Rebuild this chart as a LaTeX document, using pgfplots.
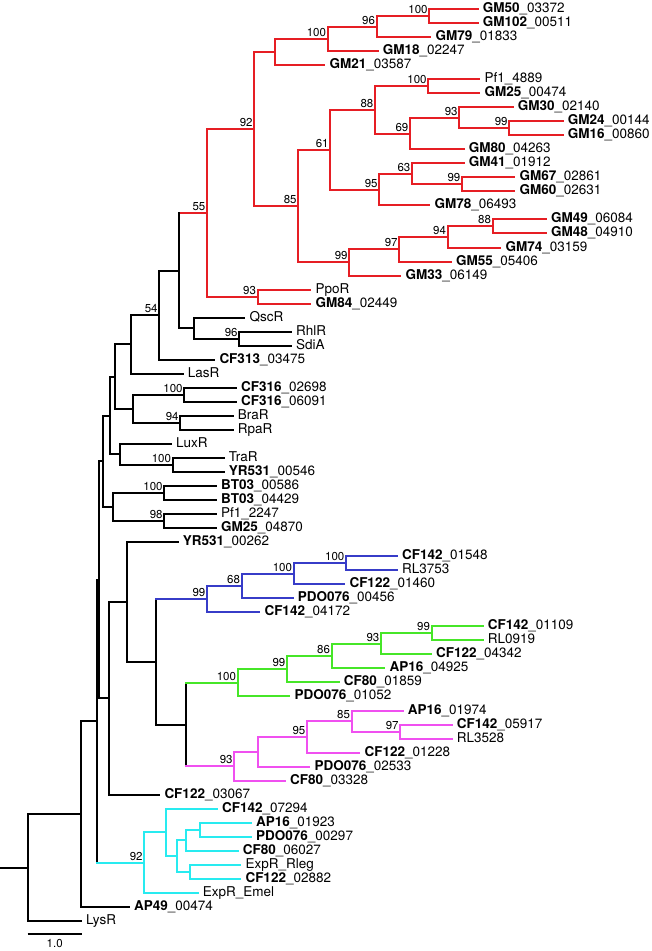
\documentclass[border=0pt]{standalone}
\usepackage{pgfplots}
\pgfplotsset{compat=1.18}
\usepackage{fontspec}
\setmainfont{TeX Gyre Heros}
\definecolor{cred}{RGB}{230,30,36}
\definecolor{cblue}{RGB}{55,60,200}
\definecolor{cgreen}{RGB}{70,230,40}
\definecolor{cmag}{RGB}{240,80,240}
\definecolor{ccyan}{RGB}{40,235,240}
\newcommand{\lf}[3]{\node[anchor=base west,inner sep=0pt,font=\fontsize{13.5}{15}\selectfont,xshift=5pt,yshift=-3.5pt] at (axis cs:#1,#2) {#3};}
\newcommand{\bs}[3]{\node[anchor=base east,inner sep=0pt,font=\fontsize{11.5}{13}\selectfont,xshift=-1.5pt,yshift=2.5pt] at (axis cs:#1,#2) {#3};}
\pgfplotsset{br/.style={line width=2pt,line cap=rect,unbounded coords=jump,mark=none}}
\begin{document}
\begin{tikzpicture}
\begin{axis}[width=650pt,height=951pt,scale only axis,hide axis,clip=false,
 xmin=0,xmax=650,ymin=-0.6415,ymax=67.142,y dir=reverse]
\path (axis cs:0,-0.6415) rectangle (axis cs:650,67.142);
% ---------- red clade ----------
\addplot[br,cred] coordinates {
(428.3,0)(476.7,0) (nan,nan)
(428.3,1)(476.7,1) (nan,nan)
(375.7,0.5)(428.3,0.5) (nan,nan)
(375.7,2)(429.3,2) (nan,nan)
(326.7,1.25)(375.7,1.25) (nan,nan)
(326.7,3)(376.7,3) (nan,nan)
(274.3,2.125)(326.7,2.125) (nan,nan)
(274.3,4)(323.3,4) (nan,nan)
(253.3,3.0625)(274.3,3.0625) (nan,nan)
(427.3,5)(478.3,5) (nan,nan)
(427.3,6)(478.3,6) (nan,nan)
(374,5.5)(427.3,5.5) (nan,nan)
(458.3,7)(511.7,7) (nan,nan)
(508.3,8)(561.7,8) (nan,nan)
(508.3,9)(561.7,9) (nan,nan)
(458.3,8.5)(508.3,8.5) (nan,nan)
(409,7.75)(458.3,7.75) (nan,nan)
(409,10)(462.7,10) (nan,nan)
(374,8.875)(409,8.875) (nan,nan)
(329.3,7.1875)(374,7.1875) (nan,nan)
(411,11)(462.7,11) (nan,nan)
(461,12)(513.3,12) (nan,nan)
(461,13)(513.3,13) (nan,nan)
(411,12.5)(461,12.5) (nan,nan)
(378.3,11.75)(411,11.75) (nan,nan)
(378.3,14)(428.3,14) (nan,nan)
(329.3,12.875)(378.3,12.875) (nan,nan)
(297.3,10.03125)(329.3,10.03125) (nan,nan)
(491.7,15)(545,15) (nan,nan)
(491.7,16)(545,16) (nan,nan)
(446.7,15.5)(491.7,15.5) (nan,nan)
(446.7,17)(499.3,17) (nan,nan)
(398.3,16.25)(446.7,16.25) (nan,nan)
(398.3,18)(450,18) (nan,nan)
(348.3,17.125)(398.3,17.125) (nan,nan)
(348.3,19)(399.3,19) (nan,nan)
(297.3,18.0625)(348.3,18.0625) (nan,nan)
(253.3,14.046875)(297.3,14.046875) (nan,nan)
(206,8.5546875)(253.3,8.5546875) (nan,nan)
(256.7,20)(309.3,20) (nan,nan)
(256.7,21)(309.3,21) (nan,nan)
(206,20.5)(256.7,20.5) (nan,nan)
(178.3,14.5273)(206,14.5273) (nan,nan)
(428.3,0)(428.3,1) (nan,nan)
(375.7,0.5)(375.7,2) (nan,nan)
(326.7,1.25)(326.7,3) (nan,nan)
(274.3,2.125)(274.3,4) (nan,nan)
(427.3,5)(427.3,6) (nan,nan)
(508.3,8)(508.3,9) (nan,nan)
(458.3,7)(458.3,8.5) (nan,nan)
(409,7.75)(409,10) (nan,nan)
(374,5.5)(374,8.875) (nan,nan)
(461,12)(461,13) (nan,nan)
(411,11)(411,12.5) (nan,nan)
(378.3,11.75)(378.3,14) (nan,nan)
(329.3,7.1875)(329.3,12.875) (nan,nan)
(491.7,15)(491.7,16) (nan,nan)
(446.7,15.5)(446.7,17) (nan,nan)
(398.3,16.25)(398.3,18) (nan,nan)
(348.3,17.125)(348.3,19) (nan,nan)
(297.3,10.03125)(297.3,18.0625) (nan,nan)
(253.3,3.0625)(253.3,14.046875) (nan,nan)
(256.7,20)(256.7,21) (nan,nan)
(206,8.5546875)(206,20.5)
};
% ---------- black backbone ----------
\addplot[br,black] coordinates {
(193.3,22)(243.3,22) (nan,nan)
(238.3,23)(290,23) (nan,nan)
(238.3,24)(290,24) (nan,nan)
(193.3,23.5)(238.3,23.5) (nan,nan)
(178.3,22.75)(193.3,22.75) (nan,nan)
(158.3,18.6387)(178.3,18.6387) (nan,nan)
(158.3,25)(213.3,25) (nan,nan)
(130,21.8193)(158.3,21.8193) (nan,nan)
(130,26)(181.7,26) (nan,nan)
(114,23.9097)(130,23.9097) (nan,nan)
(183.3,27)(235,27) (nan,nan)
(183.3,28)(235,28) (nan,nan)
(132.3,27.5)(183.3,27.5) (nan,nan)
(179.3,29)(231.7,29) (nan,nan)
(179.3,30)(231.7,30) (nan,nan)
(132.3,29.5)(179.3,29.5) (nan,nan)
(114,28.5)(132.3,28.5) (nan,nan)
(109.3,26.2048)(114,26.2048) (nan,nan)
(119,31)(170,31) (nan,nan)
(171.7,32)(222.7,32) (nan,nan)
(171.7,33)(222.7,33) (nan,nan)
(119,32.5)(171.7,32.5) (nan,nan)
(109.3,31.75)(119,31.75) (nan,nan)
(102.3,28.9774)(109.3,28.9774) (nan,nan)
(163.3,34)(215,34) (nan,nan)
(163.3,35)(215,35) (nan,nan)
(111.7,34.5)(163.3,34.5) (nan,nan)
(163.3,36)(215,36) (nan,nan)
(163.3,37)(215,37) (nan,nan)
(111.7,36.5)(163.3,36.5) (nan,nan)
(102.3,35.5)(111.7,35.5) (nan,nan)
(98,32.2387)(102.3,32.2387) (nan,nan)
(126,38)(176.7,38) (nan,nan)
(126,46.53125)(155.3,46.53125) (nan,nan)
(155.3,51)(185,51) (nan,nan)
(108,42.2656)(126,42.2656) (nan,nan)
(108,56)(158.3,56) (nan,nan)
(98,49.1328)(108,49.1328) (nan,nan)
(95.7,40.6858)(98,40.6858) (nan,nan)
(80,50.7648)(95.7,50.7648) (nan,nan)
(80,64)(128,64) (nan,nan)
(26.7,57.3824)(80,57.3824) (nan,nan)
(26.7,65)(80,65) (nan,nan)
(0,61.1912)(26.7,61.1912) (nan,nan)
(238.3,23)(238.3,24) (nan,nan)
(193.3,22)(193.3,23.5) (nan,nan)
(178.3,14.5273)(178.3,22.75) (nan,nan)
(158.3,18.6387)(158.3,25) (nan,nan)
(130,21.8193)(130,26) (nan,nan)
(183.3,27)(183.3,28) (nan,nan)
(179.3,29)(179.3,30) (nan,nan)
(132.3,27.5)(132.3,29.5) (nan,nan)
(114,23.9097)(114,28.5) (nan,nan)
(171.7,32)(171.7,33) (nan,nan)
(119,31)(119,32.5) (nan,nan)
(109.3,26.2048)(109.3,31.75) (nan,nan)
(163.3,34)(163.3,35) (nan,nan)
(163.3,36)(163.3,37) (nan,nan)
(111.7,34.5)(111.7,36.5) (nan,nan)
(102.3,28.9774)(102.3,35.5) (nan,nan)
(185,48.03125)(185,53.96875) (nan,nan)
(155.3,42.0625)(155.3,51) (nan,nan)
(126,38)(126,46.53125) (nan,nan)
(108,42.2656)(108,56) (nan,nan)
(98,32.2387)(98,49.1328) (nan,nan)
(95.7,40.6858)(95.7,60.84375) (nan,nan)
(80,50.7648)(80,64) (nan,nan)
(26.7,57.3824)(26.7,65)
};
% ---------- blue clade ----------
\addplot[br,cblue] coordinates {
(345,39)(396,39) (nan,nan)
(345,40)(396,40) (nan,nan)
(292.7,39.5)(345,39.5) (nan,nan)
(292.7,41)(343.3,41) (nan,nan)
(240.7,40.25)(292.7,40.25) (nan,nan)
(240.7,42)(291.7,42) (nan,nan)
(206,41.125)(240.7,41.125) (nan,nan)
(206,43)(258.3,43) (nan,nan)
(155.3,42.0625)(206,42.0625) (nan,nan)
(345,39)(345,40) (nan,nan)
(292.7,39.5)(292.7,41) (nan,nan)
(240.7,40.25)(240.7,42) (nan,nan)
(206,41.125)(206,43)
};
% ---------- green clade ----------
\addplot[br,cgreen] coordinates {
(430.7,44)(481.7,44) (nan,nan)
(430.7,45)(481.7,45) (nan,nan)
(380,44.5)(430.7,44.5) (nan,nan)
(380,46)(430,46) (nan,nan)
(330.7,45.25)(380,45.25) (nan,nan)
(330.7,47)(383.3,47) (nan,nan)
(286,46.125)(330.7,46.125) (nan,nan)
(286,48)(337.7,48) (nan,nan)
(236.7,47.0625)(286,47.0625) (nan,nan)
(236.7,49)(288.3,49) (nan,nan)
(185,48.03125)(236.7,48.03125) (nan,nan)
(430.7,44)(430.7,45) (nan,nan)
(380,44.5)(380,46) (nan,nan)
(330.7,45.25)(330.7,47) (nan,nan)
(286,46.125)(286,48) (nan,nan)
(236.7,47.0625)(236.7,49)
};
% ---------- magenta clade ----------
\addplot[br,cmag] coordinates {
(399.3,51)(450.7,51) (nan,nan)
(399.3,52)(450.7,52) (nan,nan)
(350.7,50)(401.7,50) (nan,nan)
(350.7,51.5)(399.3,51.5) (nan,nan)
(306,50.75)(350.7,50.75) (nan,nan)
(306,53)(358.3,53) (nan,nan)
(256.7,51.875)(306,51.875) (nan,nan)
(256.7,54)(308.3,54) (nan,nan)
(233.3,52.9375)(256.7,52.9375) (nan,nan)
(233.3,55)(284,55) (nan,nan)
(185,53.96875)(233.3,53.96875) (nan,nan)
(399.3,51)(399.3,52) (nan,nan)
(350.7,50)(350.7,51.5) (nan,nan)
(306,50.75)(306,53) (nan,nan)
(256.7,51.875)(256.7,54) (nan,nan)
(233.3,52.9375)(233.3,55)
};
% ---------- cyan clade ----------
\addplot[br,ccyan] coordinates {
(199.3,58)(250,58) (nan,nan)
(199.3,59)(250,59) (nan,nan)
(185,58.5)(199.3,58.5) (nan,nan)
(185,60)(236.7,60) (nan,nan)
(175.7,59.25)(185,59.25) (nan,nan)
(189.3,61)(239.3,61) (nan,nan)
(189.3,62)(239.3,62) (nan,nan)
(175.7,61.5)(189.3,61.5) (nan,nan)
(165,60.375)(175.7,60.375) (nan,nan)
(165,57)(216,57) (nan,nan)
(143.3,58.6875)(165,58.6875) (nan,nan)
(143.3,63)(196.7,63) (nan,nan)
(95.7,60.84375)(143.3,60.84375) (nan,nan)
(199.3,58)(199.3,59) (nan,nan)
(185,58.5)(185,60) (nan,nan)
(189.3,61)(189.3,62) (nan,nan)
(175.7,59.25)(175.7,61.5) (nan,nan)
(165,57)(165,60.375) (nan,nan)
(143.3,58.6875)(143.3,63)
};
% ---------- scale bar ----------
\addplot[line width=2pt,black,mark=none] coordinates {(26.7,65.91)(80.7,65.91)};
\node[anchor=base,inner sep=0pt,font=\fontsize{11.5}{13}\selectfont] at (axis cs:53.7,66.907) {1.0};
% ---------- leaf labels ----------
\lf{476.7}{0}{\textbf{GM50}\_03372}
\lf{476.7}{1}{\textbf{GM102}\_00511}
\lf{429.3}{2}{\textbf{GM79}\_01833}
\lf{376.7}{3}{\textbf{GM18}\_02247}
\lf{323.3}{4}{\textbf{GM21}\_03587}
\lf{478.3}{5}{Pf1\_4889}
\lf{478.3}{6}{\textbf{GM25}\_00474}
\lf{511.7}{7}{\textbf{GM30}\_02140}
\lf{561.7}{8}{\textbf{GM24}\_00144}
\lf{561.7}{9}{\textbf{GM16}\_00860}
\lf{462.7}{10}{\textbf{GM80}\_04263}
\lf{462.7}{11}{\textbf{GM41}\_01912}
\lf{513.3}{12}{\textbf{GM67}\_02861}
\lf{513.3}{13}{\textbf{GM60}\_02631}
\lf{428.3}{14}{\textbf{GM78}\_06493}
\lf{545}{15}{\textbf{GM49}\_06084}
\lf{545}{16}{\textbf{GM48}\_04910}
\lf{499.3}{17}{\textbf{GM74}\_03159}
\lf{450}{18}{\textbf{GM55}\_05406}
\lf{399.3}{19}{\textbf{GM33}\_06149}
\lf{309.3}{20}{PpoR}
\lf{309.3}{21}{\textbf{GM84}\_02449}
\lf{243.3}{22}{QscR}
\lf{290}{23}{RhlR}
\lf{290}{24}{SdiA}
\lf{213.3}{25}{\textbf{CF313}\_03475}
\lf{181.7}{26}{LasR}
\lf{235}{27}{\textbf{CF316}\_02698}
\lf{235}{28}{\textbf{CF316}\_06091}
\lf{231.7}{29}{BraR}
\lf{231.7}{30}{RpaR}
\lf{170}{31}{LuxR}
\lf{222.7}{32}{TraR}
\lf{222.7}{33}{\textbf{YR531}\_00546}
\lf{215}{34}{\textbf{BT03}\_00586}
\lf{215}{35}{\textbf{BT03}\_04429}
\lf{215}{36}{Pf1\_2247}
\lf{215}{37}{\textbf{GM25}\_04870}
\lf{176.7}{38}{\textbf{YR531}\_00262}
\lf{396}{39}{\textbf{CF142}\_01548}
\lf{396}{40}{RL3753}
\lf{343.3}{41}{\textbf{CF122}\_01460}
\lf{291.7}{42}{\textbf{PDO076}\_00456}
\lf{258.3}{43}{\textbf{CF142}\_04172}
\lf{481.7}{44}{\textbf{CF142}\_01109}
\lf{481.7}{45}{RL0919}
\lf{430}{46}{\textbf{CF122}\_04342}
\lf{383.3}{47}{\textbf{AP16}\_04925}
\lf{337.7}{48}{\textbf{CF80}\_01859}
\lf{288.3}{49}{\textbf{PDO076}\_01052}
\lf{401.7}{50}{\textbf{AP16}\_01974}
\lf{450.7}{51}{\textbf{CF142}\_05917}
\lf{450.7}{52}{RL3528}
\lf{358.3}{53}{\textbf{CF122}\_01228}
\lf{308.3}{54}{\textbf{PDO076}\_02533}
\lf{284}{55}{\textbf{CF80}\_03328}
\lf{158.3}{56}{\textbf{CF122}\_03067}
\lf{216}{57}{\textbf{CF142}\_07294}
\lf{250}{58}{\textbf{AP16}\_01923}
\lf{250}{59}{\textbf{PDO076}\_00297}
\lf{236.7}{60}{\textbf{CF80}\_06027}
\lf{239.3}{61}{ExpR\_Rleg}
\lf{239.3}{62}{\textbf{CF122}\_02882}
\lf{196.7}{63}{ExpR\_Emel}
\lf{128}{64}{\textbf{AP49}\_00474}
\lf{80}{65}{LysR}
% ---------- bootstrap values ----------
\bs{428.3}{0.5}{100}
\bs{375.7}{1.25}{96}
\bs{326.7}{2.125}{100}
\bs{427.3}{5.5}{100}
\bs{508.3}{8.5}{99}
\bs{458.3}{7.75}{93}
\bs{409}{8.875}{69}
\bs{374}{7.1875}{88}
\bs{461}{12.5}{99}
\bs{411}{11.75}{63}
\bs{378.3}{12.875}{95}
\bs{329.3}{10.03125}{61}
\bs{491.7}{15.5}{88}
\bs{446.7}{16.25}{94}
\bs{398.3}{17.125}{97}
\bs{348.3}{18.0625}{99}
\bs{297.3}{14.046875}{85}
\bs{253.3}{8.5546875}{92}
\bs{256.7}{20.5}{93}
\bs{206}{14.5273}{55}
\bs{158.3}{21.8193}{54}
\bs{238.3}{23.5}{96}
\bs{183.3}{27.5}{100}
\bs{179.3}{29.5}{94}
\bs{171.7}{32.5}{100}
\bs{163.3}{34.5}{100}
\bs{163.3}{36.5}{98}
\bs{345}{39.5}{100}
\bs{292.7}{40.25}{100}
\bs{240.7}{41.125}{68}
\bs{206}{42.0625}{99}
\bs{430.7}{44.5}{99}
\bs{380}{45.25}{93}
\bs{330.7}{46.125}{86}
\bs{286}{47.0625}{99}
\bs{236.7}{48.03125}{100}
\bs{399.3}{51.5}{97}
\bs{350.7}{50.75}{85}
\bs{306}{51.875}{95}
\bs{233.3}{53.96875}{93}
\bs{143.3}{60.84375}{92}
\end{axis}
\end{tikzpicture}
\end{document}
